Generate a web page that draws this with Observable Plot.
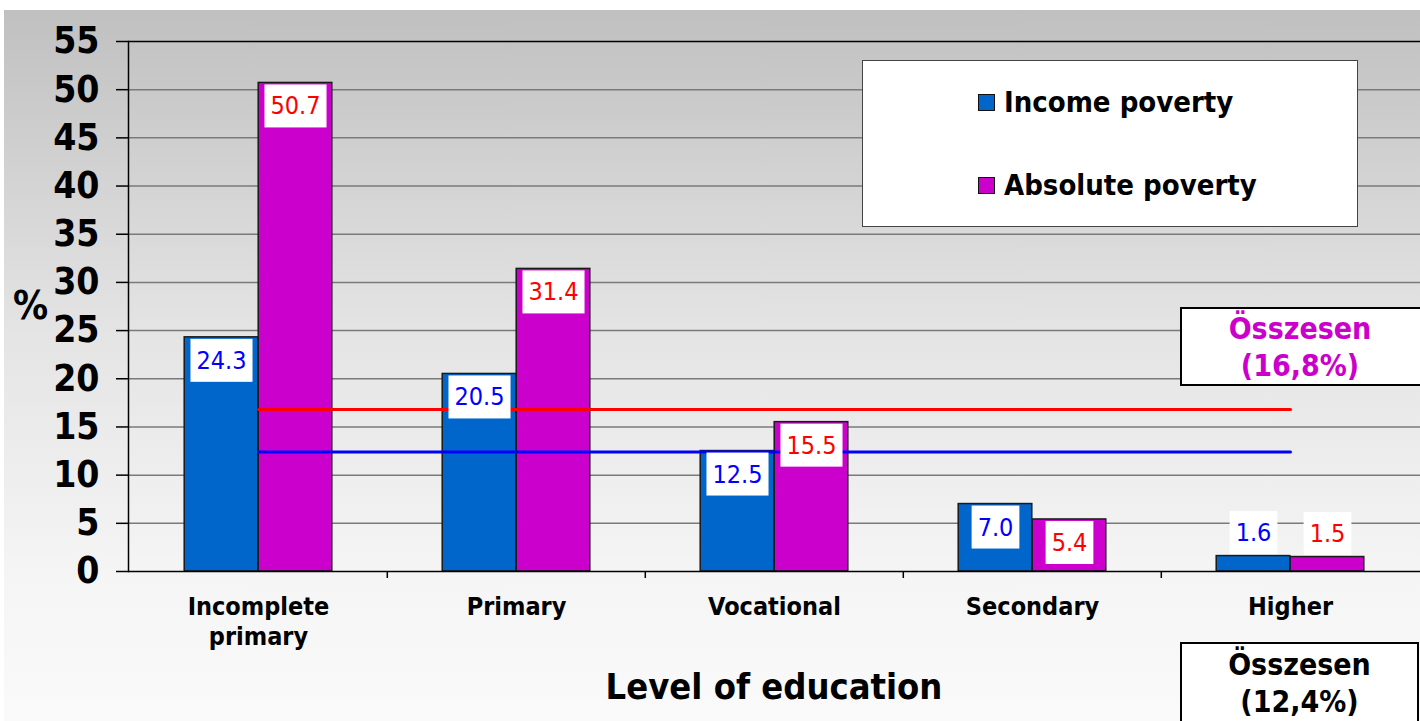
<!DOCTYPE html>
<html>
<head>
<meta charset="utf-8">
<script src="https://cdn.jsdelivr.net/npm/d3@7"></script>
<script src="https://cdn.jsdelivr.net/npm/@observablehq/plot@0.6"></script>
<style>
  html, body { margin: 0; padding: 0; background: #fff; }
  #wrap { position: relative; width: 1420px; height: 721px; overflow: hidden;
    font-family: "DejaVu Sans Condensed", "DejaVu Sans", sans-serif; font-stretch: condensed; }
  #bg { position: absolute; left: 4px; top: 10px; width: 1416px; height: 711px;
    background: linear-gradient(#c0c0c0 0%, #e4e4e4 45%, #f5f5f5 80%, #fafafa 100%); }
  #chart { position: absolute; left: 0; top: 0; }
  .box { position: absolute; background: #fff; box-sizing: border-box; font-weight: bold; }
  #legend { left: 862px; top: 60px; width: 496px; height: 167px; border: 1.5px solid #444; }
  .item { position: absolute; left: 115px; display: flex; align-items: center; font-size: 29px; color: #000; }
  .sw { width: 15px; height: 15px; border: 1px solid #111; margin-right: 9px; }
  #tot1 { left: 1180px; top: 307px; width: 244px; height: 79px; border: 2px solid #000;
    color: #cc00cc; font-size: 30px; text-align: center; line-height: 37px; padding-top: 1px; padding-right: 4px; }
  #tot2 { left: 1180px; top: 642px; width: 239px; height: 90px; border: 2px solid #000;
    color: #000; font-size: 30px; text-align: center; line-height: 37px; padding-top: 2px; }
  #xlabel { position: absolute; left: 128px; width: 1292px; top: 666px; text-align: center;
    font-size: 36px; font-weight: bold; color: #000; }
  #pct { position: absolute; left: 13px; top: 283px; font-size: 39px; font-weight: bold; color: #000; }
</style>
</head>
<body>
<div id="wrap">
  <div id="bg"></div>
  <div id="chart"></div>
  <div id="pct">%</div>
  <div id="xlabel">Level of education</div>
  <div id="legend" class="box"></div>
  <div id="tot1" class="box"></div>
  <div id="tot2" class="box"></div>
</div>
<script>
// ---- data ----
const categories = ["Incomplete primary", "Primary", "Vocational", "Secondary", "Higher"];
const seriesNames = ["Income poverty", "Absolute poverty"];
const incomePoverty = [24.3, 20.5, 12.5, 7.0, 1.6];
const absolutePoverty = [50.7, 31.4, 15.5, 5.4, 1.5];
const totalLabel = "Összesen";
const totalIncome = 12.4;
const totalAbsolute = 16.8;
const yTicks = [0, 5, 10, 15, 20, 25, 30, 35, 40, 45, 50, 55];

// ---- styles ----
const FONT = '"DejaVu Sans Condensed", "DejaVu Sans", sans-serif';
const barColors = ["#0066cc", "#cc00cc"];
const labelColors = ["#0000ff", "#ff0000"];
const lineColors = ["#0000ff", "#ff0000"];
const W = 1420, H = 721, ML = 128, MR = 0, MT = 41, MB = 150;
const bw = (W - ML - MR) / categories.length;
const barW = 74;

const rows = categories.flatMap((c, i) => [
  {cat: c, series: seriesNames[0], value: incomePoverty[i]},
  {cat: c, series: seriesNames[1], value: absolutePoverty[i]}
]);

const ends = [categories[0], categories[categories.length - 1]];
const lineData = (v) => ends.map(c => ({cat: c, v}));

function bars(k) {
  return Plot.barY(rows, {
    filter: d => d.series === seriesNames[k], x: "cat", y: "value",
    fill: barColors[k], stroke: "#1a1a1a", strokeWidth: 1.5,
    insetLeft: k === 0 ? bw / 2 - barW : bw / 2,
    insetRight: k === 0 ? bw / 2 : bw / 2 - barW
  });
}
function labels(k, inside) {
  return Plot.text(rows, {
    filter: d => d.series === seriesNames[k] && (inside ? d.value >= 5 : d.value < 5),
    x: "cat", y: "value", text: d => d.value.toFixed(1),
    dx: (k === 0 ? -1 : 1) * barW / 2, dy: inside ? 23.5 : -23,
    fill: labelColors[k], fontSize: 25, lineAnchor: "middle", fontFamily: FONT,
    ariaDescription: "value-label"
  });
}

const chart = Plot.plot({
  width: W, height: H,
  marginLeft: ML, marginRight: MR, marginTop: MT, marginBottom: MB,
  style: {background: "transparent", fontFamily: FONT, overflow: "visible"},
  x: {domain: categories, padding: 0},
  y: {domain: [0, 55]},
  marks: [
    Plot.gridY({ticks: yTicks.slice(1, -1), stroke: "#7a7a7a", strokeOpacity: 1, strokeWidth: 1.5}),
    bars(0), bars(1),
    Plot.lineY(lineData(totalAbsolute), {x: "cat", y: "v", stroke: lineColors[1], strokeWidth: 3}),
    Plot.lineY(lineData(totalIncome), {x: "cat", y: "v", stroke: lineColors[0], strokeWidth: 3}),
    labels(0, true), labels(0, false), labels(1, true), labels(1, false),
    Plot.ruleY([0], {stroke: "#000", strokeWidth: 1.5}),
    Plot.ruleY([55], {stroke: "#000", strokeWidth: 1.5}),
    Plot.frame({anchor: "left", stroke: "#000", strokeWidth: 1.5}),
    Plot.axisY({ticks: yTicks, tickSize: 12, tickPadding: 17, fontSize: 37, fontWeight: "bold",
      color: "#000", strokeWidth: 1.5, label: null, fontFamily: FONT}),
    Plot.axisX({ticks: categories.slice(1), tickSize: 7, tickFormat: () => "", dx: -bw / 2,
      strokeWidth: 1.5, color: "#000", label: null}),
    Plot.axisX({tickSize: 0, tickPadding: 22, fontSize: 25, fontWeight: "bold", color: "#000",
      lineHeight: 1.2, fontFamily: FONT, label: null,
      tickFormat: d => d === "Incomplete primary" ? "Incomplete\nprimary" : d})
  ]
});
document.getElementById("chart").appendChild(chart);

// white boxes behind value labels
chart.querySelectorAll('g[aria-description="value-label"] text').forEach(t => {
  const b = t.getBBox();
  const r = document.createElementNS("http://www.w3.org/2000/svg", "rect");
  r.setAttribute("x", b.x - 6);
  r.setAttribute("y", b.y + b.height / 2 - 21.5);
  r.setAttribute("width", b.width + 12);
  r.setAttribute("height", 43);
  r.setAttribute("fill", "#fff");
  r.setAttribute("stroke", "none");
  if (t.getAttribute("transform")) r.setAttribute("transform", t.getAttribute("transform"));
  t.parentNode.insertBefore(r, t);
});

// legend
const legend = document.getElementById("legend");
seriesNames.forEach((s, k) => {
  const it = document.createElement("div");
  it.className = "item";
  it.style.top = (k === 0 ? 24 : 107) + "px";
  it.innerHTML = `<div class="sw" style="background:${barColors[k]}"></div><span>${s}</span>`;
  legend.appendChild(it);
});
const fmt = v => "(" + String(v).replace(".", ",") + "%)";
document.getElementById("tot1").innerHTML = `${totalLabel}<br>${fmt(totalAbsolute)}`;
document.getElementById("tot2").innerHTML = `${totalLabel}<br>${fmt(totalIncome)}`;
</script>
</body>
</html>
